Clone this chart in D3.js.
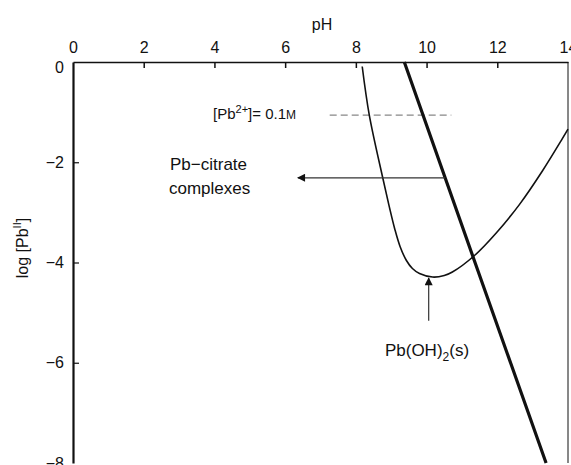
<!DOCTYPE html>
<html>
<head>
<meta charset="utf-8">
<script src="https://cdn.jsdelivr.net/npm/d3@7"></script>
<style>
  body { margin: 0; background: #fff; }
  text { font-family: "Liberation Sans", Arial, sans-serif; fill: #111; }
</style>
</head>
<body>
<script>
// ticks
var phTicks = [0, 2, 4, 6, 8, 10, 12, 14];
var logTicks = [0, -2, -4, -6, -8];

// thin curve: total soluble Pb with citrate
var curvePH  = [8.18, 8.38, 8.76, 8.95, 9.1, 9.25, 9.43, 9.6, 9.8, 10.17, 10.5, 10.73, 11.34, 11.97, 12.63, 13.28, 13.84, 14.0];
var curveLog = [-0.09, -1.06, -2.31, -2.9, -3.33, -3.68, -3.96, -4.12, -4.22, -4.29, -4.26, -4.19, -3.87, -3.41, -2.84, -2.17, -1.53, -1.34];

// thick line: Pb(OH)2 solubility
var solPH  = [9.37, 11.37, 13.38];
var solLog = [0, -4, -8];

// [Pb2+] = 0.1M level
var levelPH = [7.26, 10.7];
var levelLog = -1.06;

var width = 571, height = 465;
var margin = {top: 62, left: 73, right: 3, bottom: 2};

var svg = d3.select("body").append("svg")
  .attr("width", width)
  .attr("height", height);

var x = d3.scaleLinear().domain([0, 14]).range([margin.left, width - margin.right]);
var y = d3.scaleLinear().domain([0, -8]).range([margin.top, height - margin.bottom]);

// arrow marker
svg.append("defs").append("marker")
  .attr("id", "arr")
  .attr("viewBox", "0 0 10 10")
  .attr("refX", 9).attr("refY", 5)
  .attr("markerWidth", 10).attr("markerHeight", 8)
  .attr("markerUnits", "userSpaceOnUse")
  .attr("orient", "auto")
  .append("path").attr("d", "M0,0 L10,5 L0,10 Z").attr("fill", "#111");

// top axis
var xAxis = d3.axisTop(x).tickValues(phTicks).tickSizeInner(-6).tickSizeOuter(0).tickPadding(9);
var gx = svg.append("g").attr("transform", "translate(0," + margin.top + ")").call(xAxis);
gx.select(".domain").attr("stroke", "#111").attr("stroke-width", 1.5);
gx.selectAll(".tick line").attr("stroke", "#111").attr("stroke-width", 1.5);
gx.selectAll(".tick text").style("font-size", "16px").attr("fill", "#111")
  .style("font-family", "Liberation Sans, Arial, sans-serif");
gx.selectAll(".tick").filter(function(d){ return d == 0 || d == 14; }).select("line").remove();

// left axis
var yAxis = d3.axisLeft(y).tickValues(logTicks).tickSizeInner(-6).tickSizeOuter(0).tickPadding(9)
  .tickFormat(function(d){ return d == 0 ? "0" : "\u2212" + Math.abs(d); });
var gy = svg.append("g").attr("transform", "translate(" + margin.left + ",0)").call(yAxis);
gy.select(".domain").attr("stroke", "#111").attr("stroke-width", 2.2);
gy.selectAll(".tick line").attr("stroke", "#111").attr("stroke-width", 1.2);
gy.selectAll(".tick text").style("font-size", "16px").attr("fill", "#111")
  .style("font-family", "Liberation Sans, Arial, sans-serif");
gy.selectAll(".tick").filter(function(d){ return d == 0 || d == -8; }).select("line").remove();
gy.selectAll(".tick").filter(function(d){ return d == 0; }).select("text").attr("dy", "0.65em");

// right edge
svg.append("line")
  .attr("x1", x(14)).attr("x2", x(14))
  .attr("y1", y(0)).attr("y2", y(-8))
  .attr("stroke", "#111").attr("stroke-width", 1);

// axis titles
svg.append("text").attr("x", 322).attr("y", 30).attr("text-anchor", "middle")
  .style("font-size", "16px").text("pH");
var yl = svg.append("text").attr("transform", "translate(28,248) rotate(-90)")
  .attr("text-anchor", "middle").style("font-size", "16px");
yl.append("tspan").text("log [Pb");
yl.append("tspan").attr("dy", "-7").style("font-size", "11px").text("II");
yl.append("tspan").attr("dy", "7").text("]");

// level dashed line
svg.append("line")
  .attr("x1", x(levelPH[0])).attr("x2", x(levelPH[1]))
  .attr("y1", y(levelLog)).attr("y2", y(levelLog))
  .attr("stroke", "#888").attr("stroke-width", 1.2)
  .attr("stroke-dasharray", "7,4");

var lvl = svg.append("text").attr("x", 213).attr("y", 119).style("font-size", "15px");
lvl.append("tspan").text("[Pb");
lvl.append("tspan").attr("dy", "-6").style("font-size", "11px").text("2+");
lvl.append("tspan").attr("dy", "6").text("]= 0.1");
lvl.append("tspan").style("font-size", "12px").text("M");

// thin curve
var line = d3.line()
  .x(function(d){ return x(d[0]); })
  .y(function(d){ return y(d[1]); })
  .curve(d3.curveCatmullRom.alpha(0.5));
svg.append("path")
  .datum(d3.zip(curvePH, curveLog))
  .attr("d", line)
  .attr("fill", "none").attr("stroke", "#111").attr("stroke-width", 1.6);

// thick line
svg.append("path")
  .datum(d3.zip(solPH, solLog))
  .attr("d", d3.line().x(function(d){ return x(d[0]); }).y(function(d){ return y(d[1]); }))
  .attr("fill", "none").attr("stroke", "#111").attr("stroke-width", 3.2);

// citrate arrow
var citLog = -2.31;
svg.append("line")
  .attr("x1", x(9.37 + (-citLog) / 2)).attr("x2", x(6.36))
  .attr("y1", y(citLog)).attr("y2", y(citLog))
  .attr("stroke", "#333").attr("stroke-width", 1.2)
  .attr("marker-end", "url(#arr)");
svg.append("text").attr("x", 170).attr("y", 170)
  .style("font-size", "17px").text("Pb\u2212citrate");
svg.append("text").attr("x", 169).attr("y", 194)
  .style("font-size", "17px").text("complexes");

// Pb(OH)2 arrow
svg.append("line")
  .attr("x1", x(10.06)).attr("x2", x(10.06))
  .attr("y1", y(-5.16)).attr("y2", y(-4.31))
  .attr("stroke", "#333").attr("stroke-width", 1.2)
  .attr("marker-end", "url(#arr)");
var pbo = svg.append("text").attr("x", 427).attr("y", 356).attr("text-anchor", "middle")
  .style("font-size", "17px");
pbo.append("tspan").text("Pb(OH)");
pbo.append("tspan").attr("dy", "5").style("font-size", "12px").text("2");
pbo.append("tspan").attr("dy", "-5").text("(s)");
</script>
</body>
</html>
